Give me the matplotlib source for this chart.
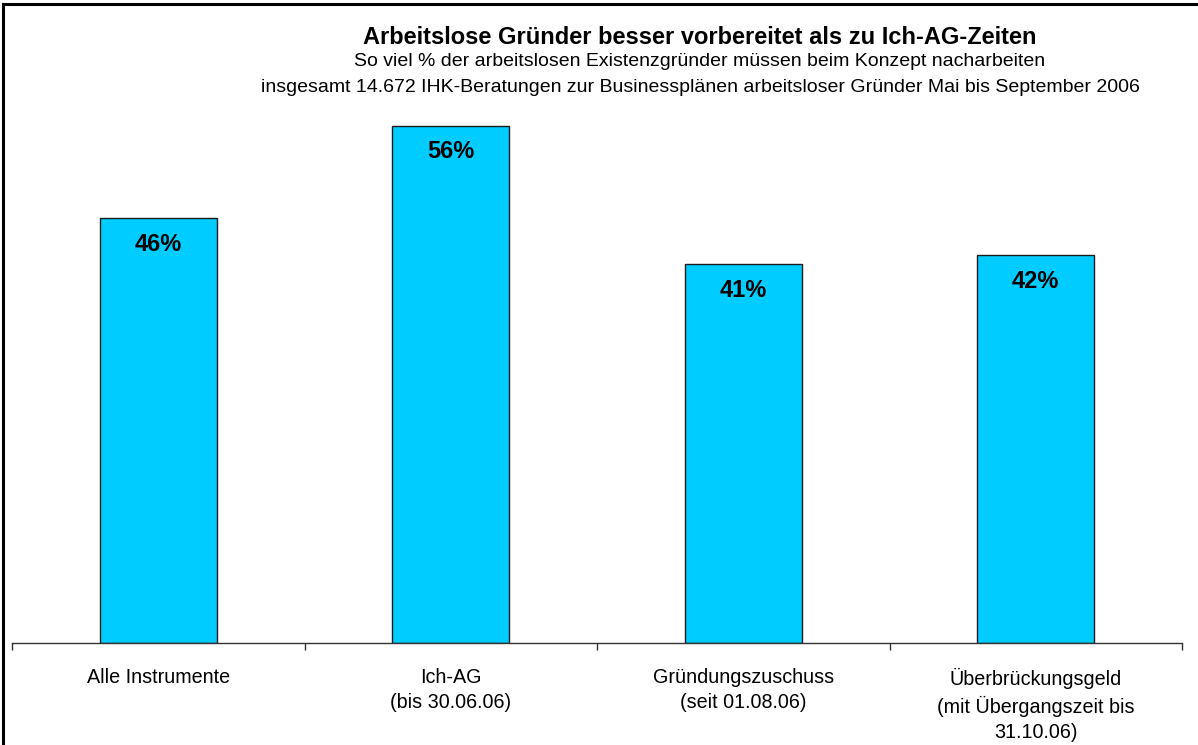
import matplotlib
matplotlib.use("Agg")
import matplotlib.pyplot as plt
from matplotlib.lines import Line2D

plt.rcParams['font.family'] = ['Liberation Sans', 'DejaVu Sans']

categories = ["Alle Instrumente", "Ich-AG\n(bis 30.06.06)", "Gründungszuschuss\n(seit 01.08.06)",
              "Überbrückungsgeld\n(mit Übergangszeit bis\n31.10.06)"]
values = [46, 56, 41, 42]
value_labels = ["46%", "56%", "41%", "42%"]
title = "Arbeitslose Gründer besser vorbereitet als zu Ich-AG-Zeiten"
subtitle1 = "So viel % der arbeitslosen Existenzgründer müssen beim Konzept nacharbeiten"
subtitle2 = "insgesamt 14.672 IHK-Beratungen zur Businessplänen arbeitsloser Gründer Mai bis September 2006"

W, H = 1198, 745
fig = plt.figure(figsize=(W / 100, H / 100), dpi=100)
ax = fig.add_axes([12 / W, (H - 643) / H, (1182 - 12) / W, (643 - 89) / H])

x = list(range(len(categories)))
ax.bar(x, values, width=0.4, color="#00CCFF", edgecolor="#1a1a1a", linewidth=1.0, zorder=2)
for xi, v, lab in zip(x, values, value_labels):
    ax.annotate(lab, (xi, v), xytext=(0, -26), textcoords="offset pixels",
                ha="center", va="center", fontsize=17, fontweight="bold", color="black")

ax.set_xlim(-0.5, len(categories) - 0.5)
ax.set_ylim(0, 60)
for s in ["top", "left", "right"]:
    ax.spines[s].set_visible(False)
ax.spines["bottom"].set_color("#333333")
ax.spines["bottom"].set_linewidth(1.0)
ax.set_yticks([])
ax.set_xticks([i - 0.5 for i in range(len(categories) + 1)])
ax.set_xticklabels([])
ax.tick_params(axis="x", which="major", direction="out", length=5, width=1, color="#333333")
ax.set_xticks(x, minor=True)
ax.set_xticklabels(categories, minor=True, fontsize=14.2, linespacing=1.4)
ax.tick_params(axis="x", which="minor", length=0, pad=18)

cx = 700 / W
fig.text(cx, 1 - 37 / H, title, ha="center", va="center", fontsize=17, fontweight="bold")
fig.text(cx, 1 - 62 / H, subtitle1, ha="center", va="center", fontsize=14)
fig.text(cx, 1 - 88 / H, subtitle2, ha="center", va="center", fontsize=14)

fig.add_artist(Line2D([3 / W, 1.0], [1 - 4 / H, 1 - 4 / H], transform=fig.transFigure, color="black", linewidth=2.2))
fig.add_artist(Line2D([3 / W, 3 / W], [0, 1 - 4 / H], transform=fig.transFigure, color="black", linewidth=2.2))

fig.savefig("out.png", dpi=100)
